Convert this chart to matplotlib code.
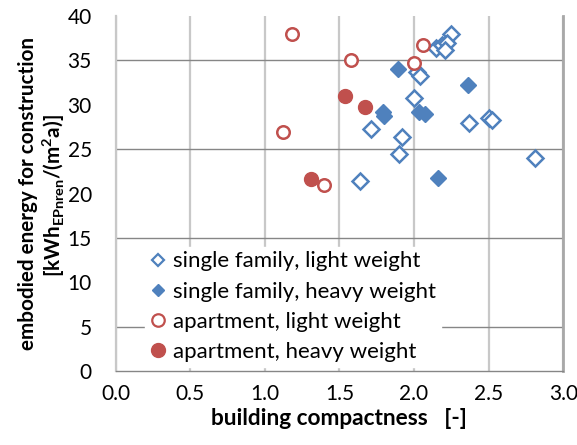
import matplotlib.pyplot as plt
from matplotlib.lines import Line2D

# building compactness [-] and embodied energy [kWh/(m2a)]
sf_light_x = [2.25, 2.15, 2.19, 2.22, 2.21, 2.02, 2.04, 2.00, 1.71, 1.92, 1.90, 1.64, 2.37, 2.50, 2.52, 2.81]
sf_light_y = [38.0, 36.4, 36.7, 36.9, 36.2, 33.7, 33.2, 30.7, 27.3, 26.4, 24.4, 21.4, 27.9, 28.5, 28.3, 24.0]

sf_heavy_x = [1.89, 2.36, 1.79, 1.80, 2.03, 2.07, 2.16]
sf_heavy_y = [34.0, 32.2, 29.2, 28.7, 29.2, 29.0, 21.8]

apt_light_x = [1.18, 1.12, 1.58, 2.00, 2.06, 1.40]
apt_light_y = [38.0, 26.9, 35.0, 34.7, 36.7, 21.0]

apt_heavy_x = [1.54, 1.67, 1.31]
apt_heavy_y = [31.0, 29.7, 21.6]

x_ticks = [0.0, 0.5, 1.0, 1.5, 2.0, 2.5, 3.0]
y_ticks = [0, 5, 10, 15, 20, 25, 30, 35, 40]
y_grid = [5, 15, 25, 35]

blue = '#4F81BD'
red = '#C0504D'

plt.rcParams['font.family'] = ['Lato', 'DejaVu Sans']

fig = plt.figure(figsize=(5.77, 4.45), dpi=100)
ax = fig.add_axes([0.2002, 0.1656, 0.7761, 0.7989])

ax.plot(sf_light_x, sf_light_y, 'D', ms=8.5, mfc='white', mec=blue, mew=1.8, ls='none', zorder=3)
ax.plot(sf_heavy_x, sf_heavy_y, 'D', ms=8.5, mfc=blue, mec=blue, mew=1.0, ls='none', zorder=3)
ax.plot(apt_light_x, apt_light_y, 'o', ms=9, mfc='white', mec=red, mew=1.8, ls='none', zorder=3)
ax.plot(apt_heavy_x, apt_heavy_y, 'o', ms=10, mfc=red, mec=red, mew=1.0, ls='none', zorder=3)

ax.set_xlim(0, 3)
ax.set_ylim(0, 40)
ax.set_xticks(x_ticks)
ax.set_xticklabels(['%.1f' % v for v in x_ticks])
ax.set_yticks(y_ticks)
ax.yaxis.remove_overlapping_locs = False
ax.set_yticks(y_grid, minor=True)

ax.grid(True, which='major', axis='x', color='#C8C8C8', lw=1.6)
ax.grid(True, which='minor', axis='y', color='#868686', lw=1.0)
ax.set_axisbelow(True)

ax.tick_params(axis='y', which='both', length=0, pad=17, labelsize=15, colors='black')
ax.tick_params(axis='x', which='major', length=0, pad=9, labelsize=15, colors='black')

ax.spines['top'].set_visible(False)
ax.spines['left'].set_color('#C8C8C8')
ax.spines['left'].set_linewidth(1.6)
ax.spines['right'].set_color('#A8A8A8')
ax.spines['right'].set_linewidth(2.0)
ax.spines['bottom'].set_color('#868686')
ax.spines['bottom'].set_linewidth(1.0)

ax.set_xlabel('building compactness   [-]', fontsize=16.3, fontweight='bold', labelpad=3)
fig.text(0.048, 1 - 194 / 445, 'embodied energy for construction', rotation=90,
         ha='center', va='center', fontsize=14.9, fontweight='bold')
fig.text(0.092, 1 - 196 / 445, r'[kWh$_{\mathregular{EPnren}}$/(m$^{\mathregular{2}}$a)]', rotation=90,
         ha='center', va='center', fontsize=14.9, fontweight='bold')

handles = [
    Line2D([], [], marker='D', ls='none', ms=6.5, mfc='white', mec=blue, mew=1.6),
    Line2D([], [], marker='D', ls='none', ms=6.5, mfc=blue, mec=blue),
    Line2D([], [], marker='o', ls='none', ms=9, mfc='white', mec=red, mew=1.6),
    Line2D([], [], marker='o', ls='none', ms=10, mfc=red, mec=red),
]
labels = ['single family, light weight', 'single family, heavy weight',
          'apartment, light weight', 'apartment, heavy weight']
leg = ax.legend(handles, labels, loc='lower left', bbox_to_anchor=(0.04, -0.018),
                fontsize=16, frameon=True, framealpha=1, edgecolor='white',
                facecolor='white', handlelength=0.8, handletextpad=0.3,
                labelspacing=0.46, borderpad=0.2, fancybox=False)
leg.set_zorder(2)

fig.savefig('out.png', dpi=100)
